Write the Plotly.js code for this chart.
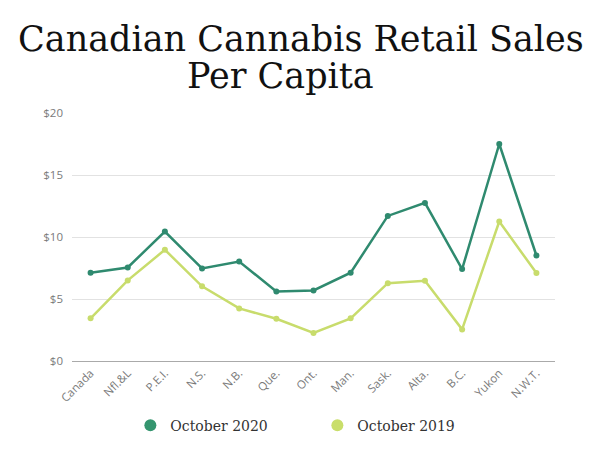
<!DOCTYPE html>
<html>
<head>
<meta charset="utf-8">
<script src="https://cdn.plot.ly/plotly-3.0.1.min.js"></script>
<style>
  html, body { margin: 0; padding: 0; background: #fff; }
  #chart { width: 600px; height: 450px; }
</style>
</head>
<body>
<div id="chart"></div>
<script>
// Retail cannabis sales per capita by province / territory
const regions = ["Canada", "Nfl.&L", "P.E.I.", "N.S.", "N.B.", "Que.", "Ont.", "Man.", "Sask.", "Alta.", "B.C.", "Yukon", "N.W.T."];
const oct2020 = [7.12, 7.54, 10.44, 7.46, 8.02, 5.61, 5.69, 7.12, 11.70, 12.75, 7.41, 17.50, 8.51];
const oct2019 = [3.44, 6.50, 8.97, 6.02, 4.24, 3.41, 2.26, 3.44, 6.28, 6.47, 2.55, 11.25, 7.09];
const yTicks = [0, 5, 10, 15, 20];
const yTickText = ["$0", "$5", "$10", "$15", "$20"];
const titleLines = ["Canadian Cannabis Retail Sales", "Per Capita"];

const green = "#2f8a6f";
const lime = "#c8dc6c";

const lineTrace = (name, values, color) => ({
  type: "scatter",
  mode: "lines+markers",
  name: name,
  x: regions,
  y: values,
  line: { color: color, width: 2.5 },
  marker: { color: color, size: 6 },
  showlegend: false,
  hoverinfo: "x+y"
});

// legend-only entries drawn as plain dots
const legendDot = (name, color) => ({
  type: "scatter",
  mode: "markers",
  name: name,
  x: [null],
  y: [null],
  marker: { color: color, size: 12 },
  showlegend: true
});

const data = [
  lineTrace("October 2020", oct2020, green),
  lineTrace("October 2019", oct2019, lime),
  legendDot("October 2020", "#35956f"),
  legendDot("October 2019", "#c9de6a")
];

// two-line heading, each line placed on its own row of the page
const titleFont = { family: "DejaVu Serif", size: 35, color: "#111" };
const headingX = [0.474, 0.431];
const headingY = [1.30, 1.15];
const headings = titleLines.map((t, i) => ({
  text: t,
  xref: "paper",
  yref: "paper",
  x: headingX[i],
  xanchor: "center",
  y: headingY[i],
  yanchor: "middle",
  showarrow: false,
  font: titleFont
}));

const layout = {
  width: 600,
  height: 450,
  paper_bgcolor: "#fff",
  plot_bgcolor: "#fff",
  margin: { l: 72, r: 45, t: 113, b: 89 },
  annotations: headings,
  xaxis: {
    type: "category",
    range: [-0.5, 12.5],
    automargin: false,
    showgrid: false,
    zeroline: false,
    showline: true,
    linecolor: "#aaaaaa",
    linewidth: 1,
    tickangle: -45,
    ticks: "",
    tickfont: { family: "Open Sans", size: 11.5, color: "#7a7a7a" },
    fixedrange: true
  },
  yaxis: {
    range: [0, 20],
    automargin: false,
    tickvals: yTicks,
    ticktext: yTickText,
    showgrid: true,
    gridcolor: "#e2e2e2",
    zeroline: false,
    showline: false,
    ticks: "",
    ticklabelstandoff: 8,
    tickfont: { family: "Open Sans", size: 11.5, color: "#7a7a7a" },
    fixedrange: true
  },
  legend: {
    orientation: "h",
    x: 0.508,
    xanchor: "center",
    yref: "container",
    y: 0.054,
    yanchor: "middle",
    entrywidth: 142,
    font: { family: "DejaVu Serif", size: 14, color: "#333" },
    bgcolor: "rgba(0,0,0,0)"
  },
  hovermode: "closest"
};

Plotly.newPlot("chart", data, layout, { displayModeBar: false, staticPlot: true });
</script>
</body>
</html>
